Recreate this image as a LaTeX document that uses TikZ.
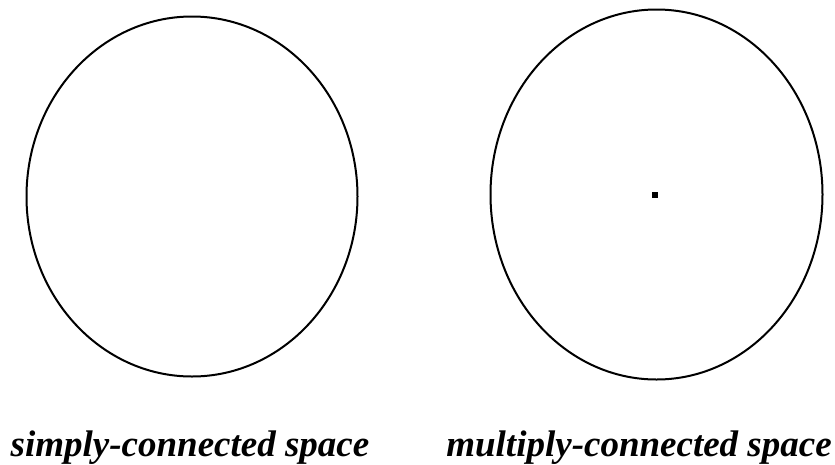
\documentclass[tikz,border=0pt]{standalone}
\usepackage{fontspec}
\setmainfont{Liberation Serif}
\usetikzlibrary{positioning,shapes.geometric}

\begin{document}
\begin{tikzpicture}[
      x=1pt, y=-1pt,
      space/.style={ellipse, draw=black, line width=2pt, inner sep=0pt},
      hole/.style={rectangle, fill=black, minimum size=6pt, inner sep=0pt},
      caption/.style={font=\fontsize{37}{40}\selectfont\bfseries\itshape, anchor=base, inner sep=0pt},
    ]
    \useasboundingbox (0,0) rectangle (835,464);
    \node[space, minimum width=331pt, minimum height=360pt] (simply) at (192, 196.5) {};
    \node[space, minimum width=332pt, minimum height=370pt] (multiply) at (656.5, 194.5) {};
    \node[hole] (pt) at (655, 195) {};

    % Captions
    \node[caption] (simplylbl) at (190, 456) {simply-connected space};
    \node[caption] (multiplylbl) at (639, 456) {multiply-connected space};
  \end{tikzpicture}
\end{document}
